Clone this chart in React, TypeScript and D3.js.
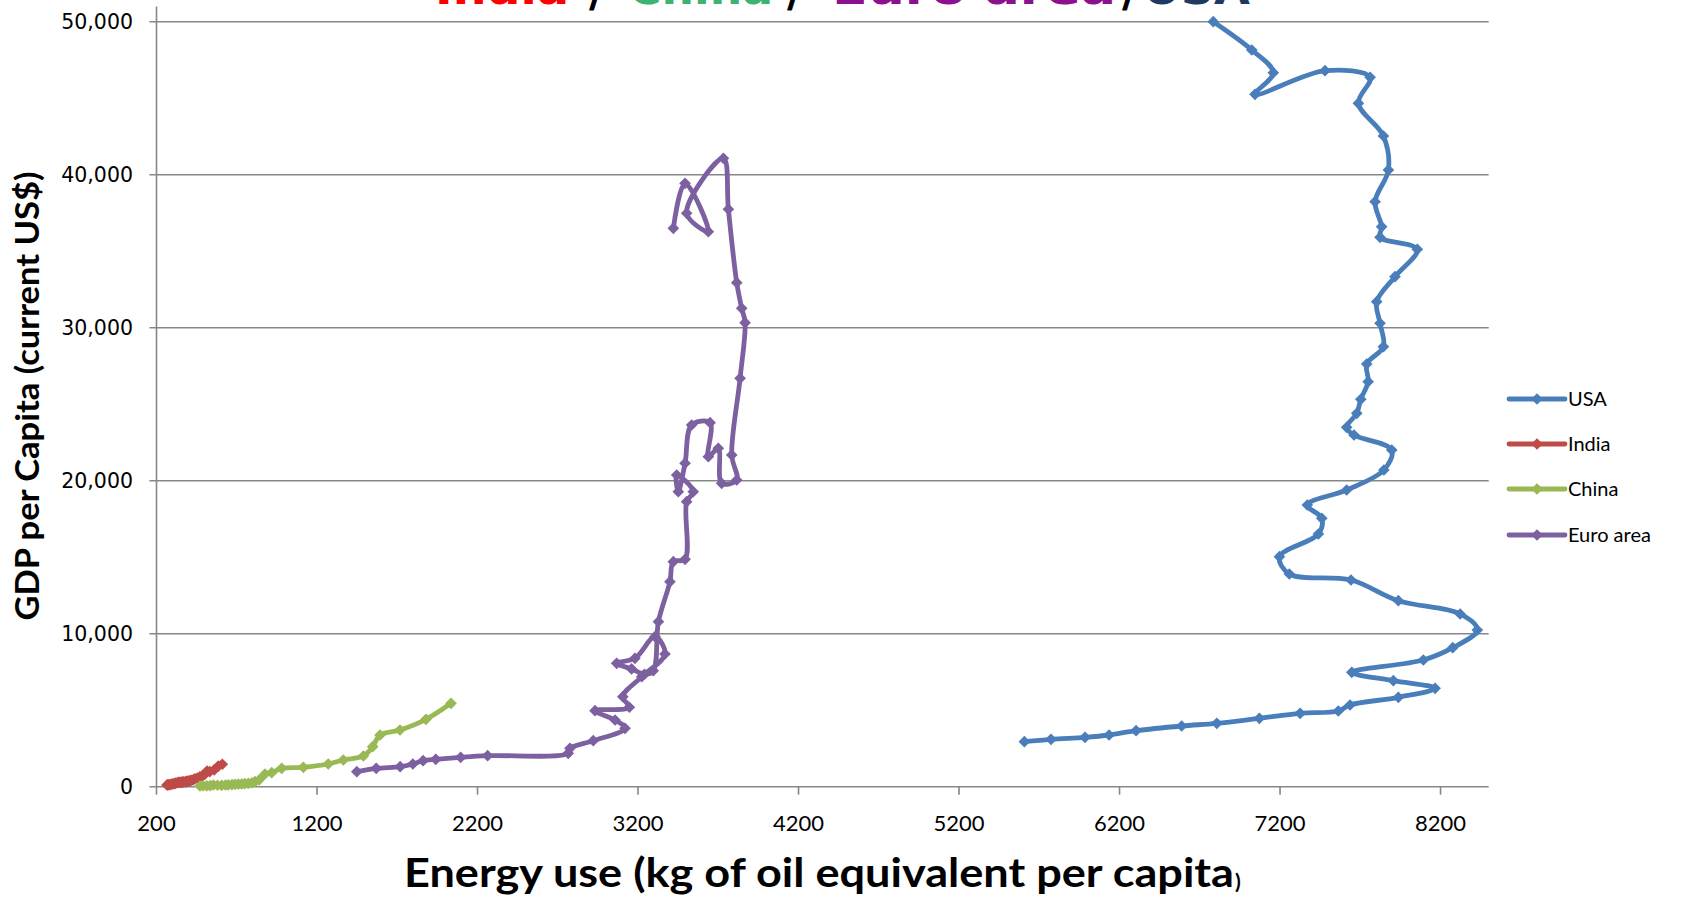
import React from 'react';
import * as d3 from 'd3';

// ---------- data ----------
const xTicks = [200, 1200, 2200, 3200, 4200, 5200, 6200, 7200, 8200];
const yTicks = [0, 10000, 20000, 30000, 40000, 50000];

const seriesNames = ['USA', 'India', 'China', 'Euro area'];
const seriesColors = ['#4A7EBB', '#BE4B48', '#98B954', '#7D60A0'];

const usaEnergy = [5607, 5773, 5985, 6135, 6303, 6587, 6806, 7071, 7325, 7563, 7636, 7937, 8166, 7906, 7647, 8093, 8276, 8429, 8322, 7937, 7642, 7258, 7196, 7439, 7460, 7370, 7615, 7847, 7896, 7661, 7615, 7678, 7703, 7749, 7740, 7844, 7823, 7802, 7916, 8055, 7823, 7833, 7792, 7875, 7844, 7688, 7761, 7480, 7044, 7158, 7024, 6784];
const usaGdp = [2941, 3098, 3229, 3379, 3660, 3967, 4143, 4470, 4797, 4948, 5340, 5843, 6431, 6928, 7477, 8281, 9085, 10242, 11288, 12157, 13510, 13902, 15033, 16516, 17542, 18412, 19392, 20699, 22006, 22987, 23490, 24405, 25320, 26471, 27628, 28759, 30288, 31700, 33334, 35123, 35908, 36601, 38236, 40307, 42530, 44667, 46365, 46799, 45255, 46667, 48151, 50000];

const indiaEnergy = [265, 270, 275, 280, 290, 300, 310, 315, 320, 330, 335, 345, 350, 355, 360, 365, 370, 380, 385, 390, 395, 405, 410, 420, 430, 440, 455, 470, 485, 500, 515, 532, 560, 585, 610];
const indiaGdp = [110, 120, 125, 130, 150, 180, 200, 210, 230, 260, 280, 290, 290, 280, 300, 310, 320, 320, 330, 350, 360, 380, 400, 420, 460, 520, 560, 640, 710, 800, 1020, 990, 1100, 1350, 1470];

const chinaEnergy = [471, 490, 513, 535, 554, 580, 606, 630, 647, 670, 689, 710, 731, 750, 772, 795, 814, 840, 876, 918, 980, 1115, 1270, 1364, 1489, 1547, 1593, 1717, 1879, 2035];
const chinaGdp = [46, 60, 55, 70, 111, 95, 90, 110, 120, 140, 155, 170, 177, 200, 220, 260, 329, 450, 831, 918, 1202, 1267, 1485, 1747, 2008, 2618, 3381, 3708, 4405, 5451];

const euroEnergy = [1448, 1569, 1718, 1797, 1861, 1940, 2095, 2263, 2765, 2776, 2921, 3119, 3057, 2932, 3146, 3105, 3223, 3368, 3306, 3181, 3067, 3160, 3240, 3295, 3327, 3399, 3420, 3493, 3503, 3544, 3441, 3451, 3493, 3534, 3649, 3638, 3700, 3721, 3815, 3784, 3836, 3867, 3846, 3815, 3763, 3732, 3503, 3638, 3493, 3420];
const euroGdp = [981, 1199, 1308, 1482, 1700, 1787, 1918, 2027, 2179, 2510, 3007, 3817, 4360, 4967, 5190, 5882, 7190, 8673, 9804, 8392, 8065, 7700, 7350, 7582, 10785, 13399, 14706, 14863, 18628, 19282, 20373, 19282, 21138, 23641, 23791, 21569, 22118, 19830, 20046, 21680, 26693, 30327, 31268, 32941, 37739, 41072, 37478, 36275, 39438, 36497];

const titleWords = ['India', 'China', 'Euro area', 'USA'];
const titleColors = ['#FF0000', '#3CB371', '#8E108E', '#1F3A60'];

// ---------- layout ----------
const W = 1683;
const H = 902;
const plotLeft = 156.5;
const plotRight = 1488.7;
const plotBottom = 786.7;
const plotTop = 6.4;

export default function App() {
  const x = d3.scaleLinear().domain([200, 8500]).range([plotLeft, plotRight]);
  const y = d3.scaleLinear().domain([0, 51000]).range([plotBottom, plotTop]);

  const series = [
    { name: seriesNames[0], color: seriesColors[0], pts: d3.zip(usaEnergy, usaGdp) },
    { name: seriesNames[1], color: seriesColors[1], pts: d3.zip(indiaEnergy, indiaGdp) },
    { name: seriesNames[2], color: seriesColors[2], pts: d3.zip(chinaEnergy, chinaGdp) },
    { name: seriesNames[3], color: seriesColors[3], pts: d3.zip(euroEnergy, euroGdp) },
  ];

  const line = d3
    .line<number[]>()
    .x((d) => x(d[0]))
    .y((d) => y(d[1]))
    .curve(d3.curveCatmullRom.alpha(0.5));

  const diamond = d3.symbol().type(d3.symbolSquare).size(68)() as string;
  const fmt = d3.format(',');

  const grid = '#878787';

  // title word positions (left x, width)
  const titlePos = [
    [435, 134],
    [628, 145],
    [832, 284],
    [1143, 107],
  ];
  const slashX = [597, 795, 1130];

  const legendY = [399, 444, 489, 535];

  return (
    <svg
      width={W}
      height={H}
      viewBox={`0 0 ${W} ${H}`}
      style={{ position: 'absolute', left: 0, top: 0, background: '#fff' }}
    >
      <rect x={0} y={0} width={W} height={H} fill="#fff" />

      {/* title (mostly cut off at the top, as in the reference) */}
      <g fontFamily="'DejaVu Sans', Verdana, sans-serif" fontWeight="bold" fontSize={44}>
        {titleWords.map((w, i) => (
          <text
            key={w}
            x={titlePos[i][0]}
            y={3.5}
            fill={titleColors[i]}
            textLength={titlePos[i][1]}
            lengthAdjust="spacingAndGlyphs"
          >
            {w}
          </text>
        ))}
        {slashX.map((sx, i) => (
          <text key={i} x={sx} y={7} fill="#000" textAnchor="middle">
            /
          </text>
        ))}
      </g>

      {/* gridlines */}
      {yTicks.filter((t) => t > 0).map((t) => (
        <line key={t} x1={plotLeft - 7} x2={plotRight} y1={y(t)} y2={y(t)} stroke={grid} strokeWidth={1.6} />
      ))}

      {/* axes */}
      <line x1={plotLeft} x2={plotLeft} y1={plotTop} y2={plotBottom} stroke={grid} strokeWidth={1.6} />
      <line x1={plotLeft - 7} x2={plotRight} y1={plotBottom} y2={plotBottom} stroke={grid} strokeWidth={1.6} />
      {xTicks.map((t) => (
        <line key={t} x1={x(t)} x2={x(t)} y1={plotBottom} y2={plotBottom + 8} stroke={grid} strokeWidth={1.6} />
      ))}

      {/* tick labels */}
      <g fontFamily="'DejaVu Sans', Verdana, sans-serif" fontSize={20.5} fill="#000">
        {yTicks.map((t) => (
          <text key={t} x={133} y={y(t)} textAnchor="end" dominantBaseline="central">
            {fmt(t)}
          </text>
        ))}
      </g>
      <g fontFamily="Lato, 'Open Sans', sans-serif" fontSize={22} fill="#000">
        {xTicks.map((t) => (
          <text key={t} x={x(t)} y={831} textAnchor="middle">
            {t}
          </text>
        ))}
      </g>

      {/* axis titles */}
      <text
        fontFamily="Lato, 'Open Sans', sans-serif"
        fontWeight="bold"
        fontSize={32}
        fill="#000"
        textAnchor="middle"
        transform={`translate(39,396) rotate(-90)`}
        textLength={449}
        lengthAdjust="spacingAndGlyphs"
      >
        GDP per Capita (current US$)
      </text>
      <text
        fontFamily="Lato, 'Open Sans', sans-serif"
        fontWeight="bold"
        fontSize={40}
        fill="#000"
        x={404}
        y={887}
        textLength={830}
        lengthAdjust="spacingAndGlyphs"
      >
        Energy use (kg of oil equivalent per capita
      </text>
      <text fontFamily="Lato, 'Open Sans', sans-serif" fontWeight="bold" fontSize={21} fill="#000" x={1235} y={889}>
        )
      </text>

      {/* series */}
      {series.map((s) => (
        <g key={s.name}>
          <path d={line(s.pts) || ''} fill="none" stroke={s.color} strokeWidth={4.8} strokeLinejoin="round" strokeLinecap="round" />
          {s.pts.map((p, i) => (
            <path key={i} d={diamond} fill={s.color} transform={`translate(${x(p[0])},${y(p[1])}) rotate(45)`} />
          ))}
        </g>
      ))}

      {/* legend */}
      <g fontFamily="Lato, 'Open Sans', sans-serif" fontSize={20} fill="#000">
        {series.map((s, i) => (
          <g key={s.name}>
            <line x1={1509} x2={1565} y1={legendY[i]} y2={legendY[i]} stroke={s.color} strokeWidth={4.8} strokeLinecap="round" />
            <path d={diamond} fill={s.color} transform={`translate(1537,${legendY[i]}) rotate(45)`} />
            <text x={1568} y={legendY[i] + 7}>{s.name}</text>
          </g>
        ))}
      </g>
    </svg>
  );
}
